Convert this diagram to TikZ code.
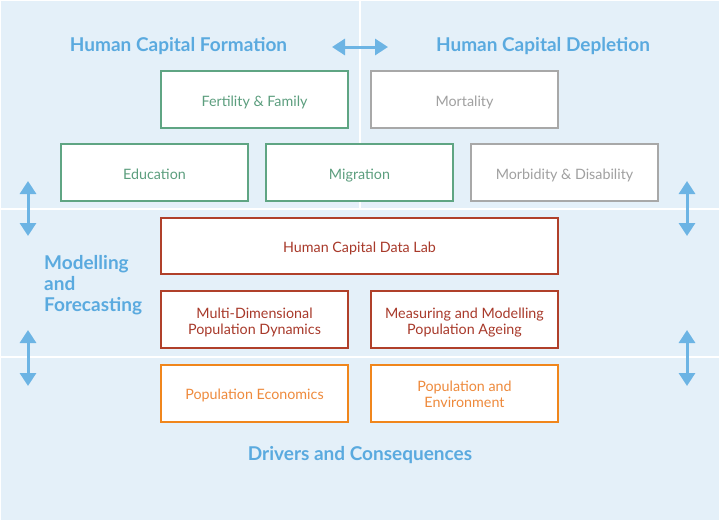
\documentclass[tikz,border=0pt]{standalone}
\usepackage{fontspec}
\setmainfont{Lato}
\usetikzlibrary{arrows.meta}
\definecolor{bgblue}{HTML}{E4F0F9}
\definecolor{headblue}{HTML}{5AAADF}
\definecolor{arrblue}{HTML}{6CB4E4}
\definecolor{gstroke}{HTML}{5FA583}
\definecolor{gtext}{HTML}{5C9E7E}
\definecolor{grstroke}{HTML}{A8A8A8}
\definecolor{grtext}{HTML}{A0A0A0}
\definecolor{rstroke}{HTML}{B0402A}
\definecolor{rtext}{HTML}{A8392A}
\definecolor{ostroke}{HTML}{F0861C}
\definecolor{otext}{HTML}{EE8A3C}
\tikzset{
  box/.style={draw, fill=white, line width=2pt, minimum width=187pt, minimum height=57pt, inner sep=0pt, align=center, font=\fontsize{14.3}{16}\selectfont, text height=13pt, text depth=0pt},
  twoline/.style={text height=29pt, text depth=0pt},
  gbox/.style={box, draw=gstroke, text=gtext},
  grbox/.style={box, draw=grstroke, text=grtext},
  rbox/.style={box, draw=rstroke, text=rtext},
  obox/.style={box, draw=ostroke, text=otext},
  head/.style={text=headblue, font=\bfseries\fontsize{19}{21}\selectfont, inner sep=0pt, anchor=base},
  biarrow/.style={draw=arrblue, line width=3pt, {Triangle[width=16pt,length=13pt]}-{Triangle[width=16pt,length=13pt]}},
  divider/.style={draw=white, line width=2.5pt}
}
\begin{document}
\begin{tikzpicture}[x=1pt,y=-1pt]
\useasboundingbox (0,0) rectangle (720,522);
\fill[white] (0,0) rectangle (720,522);
\fill[bgblue] (1,1) rectangle (719,520);
\draw[divider] (360,0) -- (360,209);
\draw[divider] (0,209) -- (720,209);
\draw[divider] (0,357) -- (720,357);

\node[head] (hcf) at (178.5,51) {Human Capital Formation};
\node[head] (hcd) at (543,51) {Human Capital Depletion};
\node[head, align=left, anchor=base west] (mf) at (44,311.5) {Modelling\\and\\Forecasting};
\node[head] (dc) at (360,460) {Drivers and Consequences};

\node[gbox] (fert) at (254.5,99.5) {Fertility \& Family};
\node[grbox] (mort) at (464.5,99.5) {Mortality};
\node[gbox] (edu) at (154.5,172.5) {Education};
\node[gbox] (mig) at (359.5,172.5) {Migration};
\node[grbox] (morb) at (564.5,172.5) {Morbidity \& Disability};
\node[rbox, minimum width=397pt, minimum height=56pt] (lab) at (359.5,246) {Human Capital Data Lab};
\node[rbox, twoline] (multi) at (254.5,319.5) {Multi-Dimensional\\Population Dynamics};
\node[rbox, twoline] (meas) at (464.5,319.5) {Measuring and Modelling\\Population Ageing};
\node[obox] (econ) at (254.5,393) {Population Economics};
\node[obox, twoline] (env) at (464.5,393) {Population and\\Environment};

\coordinate (ha1) at (332,47);
\coordinate (ha2) at (388,47);
\draw[biarrow] (ha1) -- (ha2);
\coordinate (la1) at (28,181);
\coordinate (la2) at (28,236);
\draw[biarrow] (la1) -- (la2);
\coordinate (la3) at (28,330);
\coordinate (la4) at (28,386);
\draw[biarrow] (la3) -- (la4);
\coordinate (ra1) at (687,181);
\coordinate (ra2) at (687,236);
\draw[biarrow] (ra1) -- (ra2);
\coordinate (ra3) at (687,330);
\coordinate (ra4) at (687,386);
\draw[biarrow] (ra3) -- (ra4);
\end{tikzpicture}
\end{document}
